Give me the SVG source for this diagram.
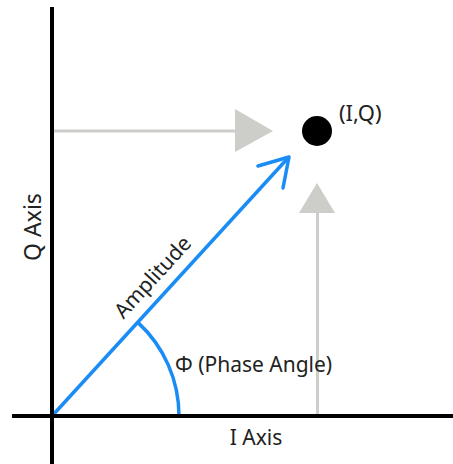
<svg xmlns="http://www.w3.org/2000/svg" width="453" height="464" viewBox="0 0 453 464">
<style>
.t{font-family:"Noto Sans","Liberation Sans",sans-serif;fill:#222;font-size:21px;}
.ax{stroke:#000;stroke-width:4;fill:none;}
.gr{stroke:#cdcdc9;stroke-width:3;fill:none;}
.gt{fill:#cdcdc9;stroke:none;}
.bl{stroke:#1a8cf5;stroke-width:3.5;fill:none;stroke-linecap:round;stroke-linejoin:round;}
</style>
<rect width="453" height="464" fill="#fff"/>
<g id="connectors">
<line class="gr" x1="54" y1="131" x2="237" y2="131"/>
<polygon class="gt" points="235,109 273,131 235,152"/>
<line class="gr" x1="317.5" y1="416" x2="317.5" y2="212"/>
<polygon class="gt" points="299,213 317,183 335,213"/>
<line class="bl" x1="52" y1="416" x2="288" y2="158" style="stroke-linecap:butt"/>
<polyline class="bl" points="258,166 289,157 283,188"/>
<path class="bl" d="M137.8,322.4 A127,127 0 0 1 179,416" style="stroke-linecap:butt"/>
</g>
<g id="axes">
<line class="ax" x1="52" y1="7" x2="52" y2="464"/>
<line class="ax" x1="12" y1="416" x2="453" y2="416"/>
</g>
<g id="point">
<circle cx="317" cy="131" r="15" fill="#000"/>
<text class="t" x="339" y="121" style="font-size:22px">(I,Q)</text>
</g>
<g id="labels">
<text class="t" x="256" y="445" text-anchor="middle">I Axis</text>
<text class="t" transform="translate(41,227) rotate(-90)" text-anchor="middle" style="font-size:23px">Q Axis</text>
<text class="t" transform="translate(158,282) rotate(-47.5)" text-anchor="middle">Amplitude</text>
<text class="t" x="175" y="372">Φ (Phase Angle)</text>
</g>
</svg>
